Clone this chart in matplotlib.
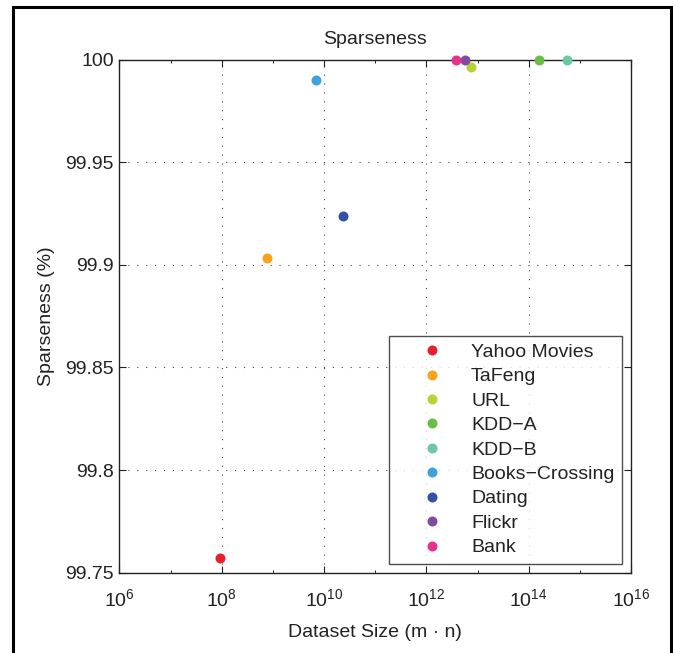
import matplotlib
matplotlib.use("Agg")
import matplotlib.pyplot as plt
from matplotlib.patches import Rectangle
from matplotlib.ticker import FixedLocator, FixedFormatter, LogLocator, NullFormatter

plt.rcParams['font.family'] = ['Liberation Sans', 'DejaVu Sans']

datasets = ["Yahoo Movies", "TaFeng", "URL", "KDD\u2212A", "KDD\u2212B",
            "Books\u2212Crossing", "Dating", "Flickr", "Bank"]
sizes = [9.3e7, 7.6e8, 7.6e12, 1.6e14, 5.5e14, 7.1e9, 2.3e10, 5.6e12, 3.8e12]
sparseness = [99.757, 99.9032, 99.9963, 100.0, 100.0, 99.9903, 99.924, 100.0, 100.0]
colors = ["#E8202A", "#F9A21C", "#B5D334", "#6ABD45", "#6CC8A0",
          "#3FA2DB", "#3452A4", "#7F4C9F", "#E8318C"]

yticks = [99.75, 99.8, 99.85, 99.9, 99.95, 100]
ytick_labels = ["99.75", "99.8", "99.85", "99.9", "99.95", "100"]
xticks = [1e6, 1e8, 1e10, 1e12, 1e14, 1e16]
xtick_labels = [r"$\mathregular{10^{6}}$", r"$\mathregular{10^{8}}$", r"$\mathregular{10^{10}}$",
                r"$\mathregular{10^{12}}$", r"$\mathregular{10^{14}}$", r"$\mathregular{10^{16}}$"]

fig = plt.figure(figsize=(6.73, 6.53), dpi=100)
ax = fig.add_axes([0.1774, 0.1230, 0.7602, 0.7856])

for name, x, y, c in zip(datasets, sizes, sparseness, colors):
    ax.plot([x], [y], 'o', color=c, markersize=7.2, markeredgewidth=0,
            label=name, clip_on=False, zorder=5)

ax.set_xscale('log')
ax.set_xlim(1e6, 1e16)
ax.set_ylim(99.75, 100)
ax.xaxis.set_major_locator(FixedLocator(xticks))
ax.xaxis.set_major_formatter(FixedFormatter(xtick_labels))
ax.xaxis.set_minor_locator(LogLocator(base=10, subs=(10.0,), numticks=20))
ax.xaxis.set_minor_formatter(NullFormatter())
ax.yaxis.set_major_locator(FixedLocator(yticks))
ax.yaxis.set_major_formatter(FixedFormatter(ytick_labels))

ax.tick_params(which='major', direction='in', length=5, width=0.8,
               top=True, right=True, labelsize=14, colors='#222222')
ax.tick_params(which='minor', direction='in', length=2, width=0.6,
               top=True, right=True)
ax.tick_params(axis='y', which='major', pad=4)
ax.tick_params(axis='x', which='major', pad=11)

ax.grid(True, which='major', linestyle=(0, (1, 7)), color='#444444', linewidth=0.8)

for sp in ax.spines.values():
    sp.set_linewidth(1.0)
    sp.set_color('#222222')

ax.set_title("Sparseness", fontsize=14, pad=11, color='#222222')
ax.set_xlabel("Dataset Size (m \u00b7 n)", fontsize=14, labelpad=10, color='#222222')
ax.set_ylabel("Sparseness (%)", fontsize=14, labelpad=7, color='#222222')

leg = ax.legend(loc='lower right', bbox_to_anchor=(0.982, 0.0175), fontsize=14,
                frameon=True, fancybox=False, edgecolor='#222222',
                handlelength=3.7, handletextpad=0.15, borderpad=0.38,
                labelspacing=0.35, borderaxespad=0.0, markerscale=1.0)
leg.get_frame().set_linewidth(1.0)
leg.set_zorder(10)
for t in leg.get_texts():
    t.set_color('#222222')

# outer frame of the figure
fig.patches.append(Rectangle((13 / 673, -0.05), (671 - 13) / 673, 1.05 - 7 / 653,
                             transform=fig.transFigure, fill=False,
                             edgecolor='black', linewidth=2.2))

fig.savefig("out.png", dpi=100)
